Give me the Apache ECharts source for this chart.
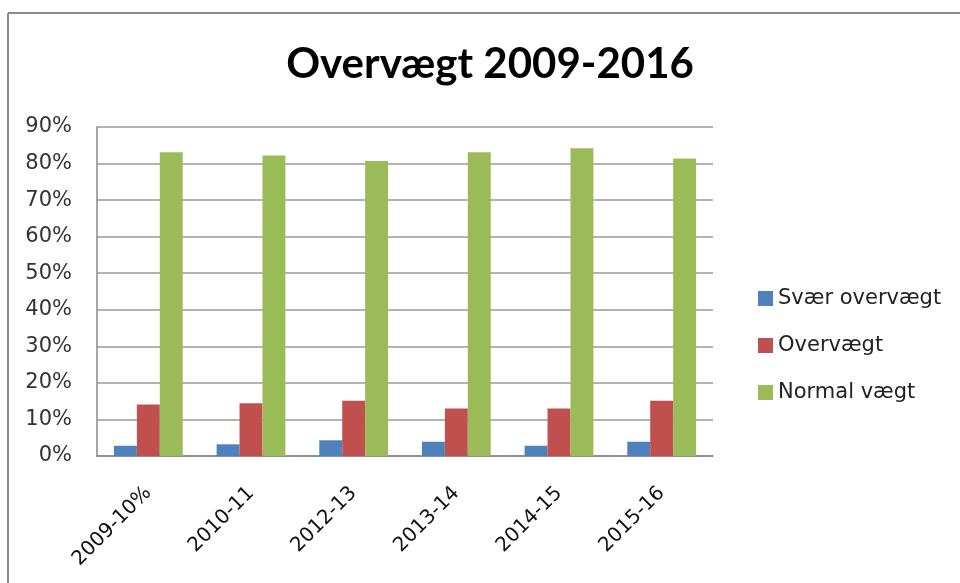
<!DOCTYPE html>
<html>
<head>
<meta charset="utf-8">
<script src="https://cdn.jsdelivr.net/npm/echarts@6/dist/echarts.min.js"></script>
<style>
  html, body { margin: 0; padding: 0; background: #fff; }
  #chart { width: 960px; height: 583px; }
</style>
</head>
<body>
<div id="chart"></div>
<script>
// 数据
let categories = ['2009-10%', '2010-11', '2012-13', '2013-14', '2014-15', '2015-16'];
let svaerOvervaegt = [2.8, 3.2, 4.3, 3.9, 2.8, 3.9];
let overvaegt = [14.1, 14.4, 15.1, 13.0, 13.0, 15.1];
let normalVaegt = [83.1, 82.2, 80.7, 83.1, 84.2, 81.4];
let yTicks = [0, 10, 20, 30, 40, 50, 60, 70, 80, 90];

let myChart = echarts.init(document.getElementById('chart'));

function barSeries(name, data, color) {
    return {
        name: name,
        type: 'bar',
        data: data,
        barGap: '0%',
        barCategoryGap: '33%',
        itemStyle: { color: color }
    };
}

let labelFont = 'DejaVu Sans';

let option = {
    animation: false,
    title: {
        text: 'Overvægt 2009-2016',
        left: 485,
        textAlign: 'center',
        top: 38,
        textStyle: { fontFamily: 'Lato', fontSize: 42, fontWeight: 'bold', color: '#000' }
    },
    // 外框
    graphic: [
        { type: 'line', shape: { x1: 8, y1: 13, x2: 960, y2: 13 }, style: { stroke: '#8a8a8a', lineWidth: 2 } },
        { type: 'line', shape: { x1: 8, y1: 13, x2: 8, y2: 583 }, style: { stroke: '#8a8a8a', lineWidth: 2 } }
    ],
    legend: {
        orient: 'vertical',
        left: 753,
        top: 283,
        itemWidth: 15,
        itemHeight: 15,
        itemGap: 26,
        icon: 'rect',
        textStyle: { fontFamily: labelFont, fontSize: 21, color: '#222', padding: [0, 0, 0, 0] }
    },
    grid: { left: 97, right: 247, top: 127, bottom: 127 },
    xAxis: {
        type: 'category',
        data: categories,
        axisLine: { lineStyle: { color: '#888', width: 1.5 } },
        axisTick: { show: false },
        axisLabel: { rotate: 45, margin: 34, fontSize: 20, color: '#111', fontFamily: labelFont }
    },
    yAxis: {
        type: 'value',
        min: 0,
        max: yTicks[yTicks.length - 1],
        interval: 10,
        axisLine: { show: true, lineStyle: { color: '#888', width: 1.5 } },
        axisTick: { show: false },
        splitLine: { lineStyle: { color: '#9a9a9a', width: 1.5 } },
        axisLabel: { formatter: '{value}%', fontSize: 21, color: '#333', margin: 25, fontFamily: labelFont }
    },
    series: [
        barSeries('Svær overvægt', svaerOvervaegt, '#4f81bd'),
        barSeries('Overvægt', overvaegt, '#c0504d'),
        barSeries('Normal vægt', normalVaegt, '#9bbb59')
    ]
};

myChart.setOption(option);
</script>
</body>
</html>
